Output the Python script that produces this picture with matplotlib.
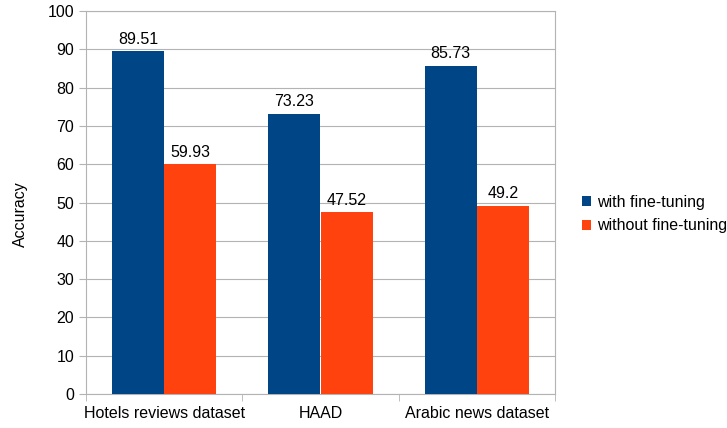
import numpy as np
import matplotlib.pyplot as plt

plt.rcParams['font.family'] = ['Liberation Sans', 'DejaVu Sans']

categories = ["Hotels reviews dataset", "HAAD", "Arabic news dataset"]
with_ft = [89.51, 73.23, 85.73]
without_ft = [59.93, 47.52, 49.2]
with_labels = ["89.51", "73.23", "85.73"]
without_labels = ["59.93", "47.52", "49.2"]

fs = 11.5

fig = plt.figure(figsize=(7.27, 4.28), dpi=100)
ax = fig.add_axes([86 / 727, 34 / 428, 469 / 727, 383 / 428])

x = np.arange(len(categories))
w = 0.333
b1 = ax.bar(x - w / 2, with_ft, w, color="#004586", label="with fine-tuning", zorder=3)
b2 = ax.bar(x + w / 2, without_ft, w, color="#ff420e", label="without fine-tuning", zorder=3)
ax.bar_label(b1, labels=with_labels, padding=3, fontsize=fs)
ax.bar_label(b2, labels=without_labels, padding=3, fontsize=fs)

ax.set_xlim(-0.5, 2.5)
ax.set_ylim(0, 100)
ax.set_yticks(np.arange(0, 101, 10))
ax.set_xticks(x)
ax.set_xticklabels(categories, fontsize=fs)
ax.set_xticks([-0.5, 0.5, 1.5, 2.5], minor=True)
ax.tick_params(axis="x", which="major", length=0, pad=9)
ax.tick_params(axis="x", which="minor", length=5, color="#b3b3b3")
ax.tick_params(axis="y", length=5, color="#b3b3b3", labelsize=fs)
ax.grid(axis="y", color="#b3b3b3", linewidth=0.8, zorder=0)
for s in ax.spines.values():
    s.set_color("#b3b3b3")
ax.set_ylabel("Accuracy", fontsize=fs)
ax.yaxis.set_label_coords(-0.124, 0.47)

fig.legend(loc="center left", bbox_to_anchor=(572 / 727, 1 - 214 / 428),
           frameon=False, fontsize=fs, handlelength=0.6, handleheight=0.6,
           handletextpad=0.35, labelspacing=0.55, borderaxespad=0.2)

fig.savefig("out.png", dpi=100)
